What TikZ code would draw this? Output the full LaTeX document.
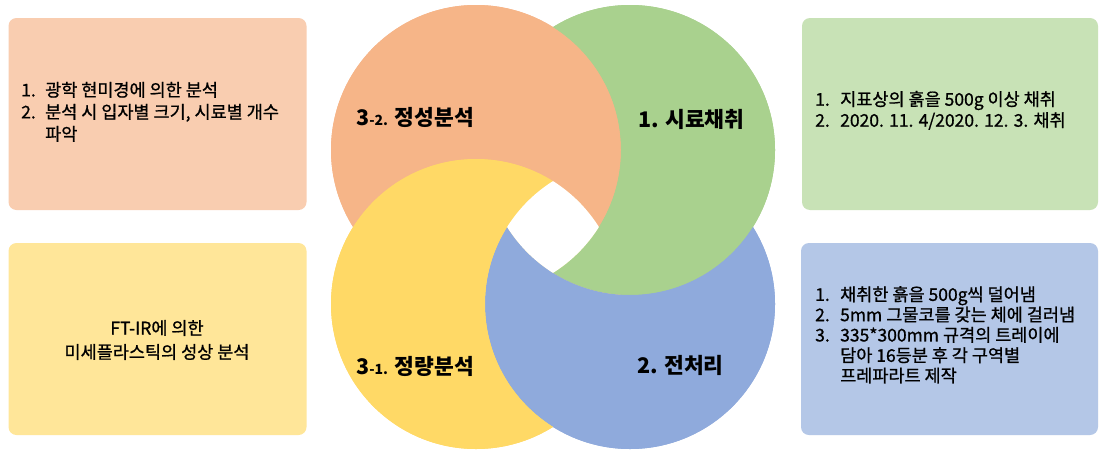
\documentclass[tikz,border=0pt]{standalone}
\usepackage{fontspec}
\newfontfamily\kr{Noto Sans CJK KR}
\newfontfamily\krm[FakeBold=0.9]{Noto Sans CJK KR}
\definecolor{cor}{HTML}{F6B588}
\definecolor{cgr}{HTML}{A9D18E}
\definecolor{cbl}{HTML}{8FAADC}
\definecolor{cye}{HTML}{FFD966}
\definecolor{lor}{HTML}{F9CDB0}
\definecolor{lgr}{HTML}{C8E2B6}
\definecolor{lbl}{HTML}{B4C7E7}
\definecolor{lye}{HTML}{FFE699}
\begin{document}
\begin{tikzpicture}[x=1pt,y=-1pt,
  box/.style={fill=#1, rounded corners=8pt, minimum width=298pt, minimum height=192pt, inner sep=0pt},
  boxtext/.style={font=\krm\fontsize{17.5}{22}\selectfont, inner sep=0pt, anchor=west, text=black},
  circlabel/.style={font=\kr\bfseries\fontsize{21.5}{25}\selectfont, inner sep=0pt, anchor=west, text=black}]
\useasboundingbox (0,0) rectangle (1099,450);
\fill[white] (0,0) rectangle (1099,450);
\def\R{145pt}
% boxes
\node[box=lor] (bTL) at (157.5,114) {};
\node[box=lye] (bBL) at (157.5,339) {};
\node[box=lgr, minimum width=296pt] (bTR) at (950,114) {};
\node[box=lbl, minimum width=297pt] (bBR) at (949.5,339) {};
% circle centres
\coordinate (cO) at (476,150);
\coordinate (cG) at (630,150);
\coordinate (cY) at (476,304);
\coordinate (cB) at (630,304);
% underlays
\fill[cbl] (cB) circle[radius=\R];
\fill[cgr] (cG) circle[radius=\R];
\fill[cor] (cO) circle[radius=\R];
\fill[cye] (cY) circle[radius=\R];
% crescents: each circle minus the one above it
\begin{scope}
  \clip (cO) circle[radius=\R];
  \fill[cor, even odd rule] (-10,-10) rectangle (1110,460) (cY) circle[radius=\R];
\end{scope}
\begin{scope}
  \clip (cG) circle[radius=\R];
  \fill[cgr, even odd rule] (-10,-10) rectangle (1110,460) (cO) circle[radius=\R];
\end{scope}
\begin{scope}
  \clip (cB) circle[radius=\R];
  \fill[cbl, even odd rule] (-10,-10) rectangle (1110,460) (cG) circle[radius=\R];
\end{scope}
\begin{scope}
  \clip (cY) circle[radius=\R];
  \fill[cye, even odd rule] (-10,-10) rectangle (1110,460) (cB) circle[radius=\R];
\end{scope}
% central hole
\begin{scope}
  \clip (cO) circle[radius=\R];
  \clip (cG) circle[radius=\R];
  \clip (cY) circle[radius=\R];
  \fill[white] (cB) circle[radius=\R];
\end{scope}
% circle labels
\node[circlabel] (l32) at (356,117) {3{\fontsize{14}{16}\selectfont -2.} 정성분석};
\node[circlabel] (l1) at (638,119) {1. 시료채취};
\node[circlabel] (l31) at (356,366) {3{\fontsize{14}{16}\selectfont -1.} 정량분석};
\node[circlabel] (l2) at (637,365) {2. 전처리};
% box texts
\node[boxtext] (tTL) at (21,114) {\begin{tabular}{@{}l@{}l@{}}\makebox[24pt][l]{1.}&광학 현미경에 의한 분석\\\makebox[24pt][l]{2.}&분석 시 입자별 크기, 시료별 개수\\&파악\end{tabular}};
\node[boxtext, anchor=center, align=center, font=\krm\fontsize{17.5}{24}\selectfont] (tBL) at (157,340) {FT-IR에 의한\\미세플라스틱의 성상 분석};
\node[boxtext, font=\krm\fontsize{17.5}{21}\selectfont] (tTR) at (815,112) {\begin{tabular}{@{}l@{}l@{}}\makebox[25pt][l]{1.}&지표상의 흙을 500g 이상 채취\\\makebox[25pt][l]{2.}&2020. 11. 4/2020. 12. 3. 채취\end{tabular}};
\node[boxtext, font=\krm\fontsize{17.5}{19.3}\selectfont] (tBR) at (815,337) {\begin{tabular}{@{}l@{}l@{}}\makebox[25pt][l]{1.}&채취한 흙을 500g씩 덜어냄\\\makebox[25pt][l]{2.}&5mm 그물코를 갖는 체에 걸러냄\\\makebox[25pt][l]{3.}&335*300mm 규격의 트레이에\\&담아 16등분 후 각 구역별\\&프레파라트 제작\end{tabular}};
\end{tikzpicture}
\end{document}
